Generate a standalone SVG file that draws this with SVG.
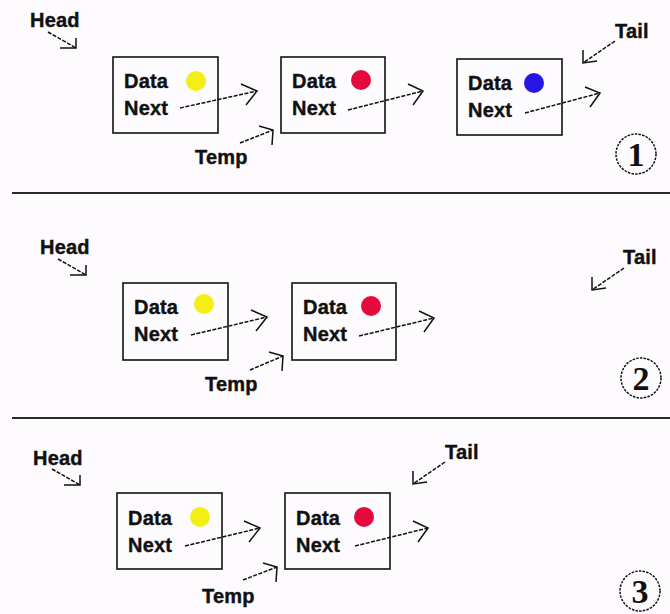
<svg xmlns="http://www.w3.org/2000/svg" width="670" height="614" viewBox="0 0 670 614">
<style>
.bg{fill:#fdfbfd}
.lbl{font-family:"Liberation Sans",Arial,sans-serif;font-weight:bold;font-size:20px;fill:#111;stroke:#111;stroke-width:0.4;letter-spacing:0.2px}
.box{fill:none;stroke:#111;stroke-width:1.6}
.sep{stroke:#2a2a2a;stroke-width:2.2}
.arr{fill:none;stroke:#111;stroke-width:1.5;stroke-dasharray:4 1.5}
.head{fill:none;stroke:#111;stroke-width:1.5}
.num{fill:none;stroke:#111;stroke-width:1.5;stroke-dasharray:2.5 1.2}
.numt{font-family:"Liberation Serif","Times New Roman",serif;font-weight:bold;font-size:34px;fill:#111;text-anchor:middle}
.y{fill:#f3ef14}
.r{fill:#e50a3c}
.b{fill:#2a16e4}
</style>
<rect class="bg" x="0" y="0" width="670" height="614"/>
<line class="sep" x1="12" y1="193" x2="670" y2="193"/>
<line class="sep" x1="12" y1="418" x2="670" y2="418"/>

<!-- Panel 1 -->
<g id="p1-head"><text class="lbl" x="30" y="27">Head</text></g>
<g id="p1-node1"><rect class="box" x="113" y="57" width="105" height="76"/><text class="lbl" x="124" y="88">Data</text><text class="lbl" x="124" y="115">Next</text><circle class="y" cx="196" cy="81" r="10"/></g>
<g id="p1-node2"><rect class="box" x="281" y="57" width="104" height="76"/><text class="lbl" x="292" y="88">Data</text><text class="lbl" x="292" y="115">Next</text><circle class="r" cx="361" cy="80" r="10"/></g>
<g id="p1-node3"><rect class="box" x="457" y="59" width="105" height="76"/><text class="lbl" x="468" y="90">Data</text><text class="lbl" x="468" y="117">Next</text><circle class="b" cx="534" cy="83" r="10"/></g>
<g id="p1-temp"><text class="lbl" x="195" y="164">Temp</text></g>
<g id="p1-tail"><text class="lbl" x="615" y="38">Tail</text></g>
<g id="p1-step"><circle class="num" cx="636" cy="154" r="20"/><text class="numt" x="636" y="166">1</text></g>

<!-- Panel 2 -->
<g id="p2-head"><text class="lbl" x="40" y="254">Head</text></g>
<g id="p2-node1"><rect class="box" x="123" y="283" width="105" height="77"/><text class="lbl" x="134" y="314">Data</text><text class="lbl" x="134" y="341">Next</text><circle class="y" cx="204" cy="304" r="10"/></g>
<g id="p2-node2"><rect class="box" x="292" y="283" width="104" height="77"/><text class="lbl" x="303" y="314">Data</text><text class="lbl" x="303" y="341">Next</text><circle class="r" cx="371" cy="306" r="10"/></g>
<g id="p2-temp"><text class="lbl" x="205" y="391">Temp</text></g>
<g id="p2-tail"><text class="lbl" x="623" y="264">Tail</text></g>
<g id="p2-step"><circle class="num" cx="641" cy="378" r="20"/><text class="numt" x="641" y="390">2</text></g>

<!-- Panel 3 -->
<g id="p3-head"><text class="lbl" x="33" y="465">Head</text></g>
<g id="p3-node1"><rect class="box" x="117" y="493" width="105" height="76"/><text class="lbl" x="128" y="525">Data</text><text class="lbl" x="128" y="552">Next</text><circle class="y" cx="200" cy="517" r="10"/></g>
<g id="p3-node2"><rect class="box" x="285" y="493" width="105" height="76"/><text class="lbl" x="296" y="525">Data</text><text class="lbl" x="296" y="552">Next</text><circle class="r" cx="364" cy="517" r="10"/></g>
<g id="p3-temp"><text class="lbl" x="202" y="603">Temp</text></g>
<g id="p3-tail"><text class="lbl" x="445" y="459">Tail</text></g>
<g id="p3-step"><circle class="num" cx="640" cy="591" r="20"/><text class="numt" x="640" y="603">3</text></g>

<g id="connectors">
<!-- panel 1 -->
<path class="arr" d="M48,32 L76,48"/><path class="head" d="M60,48 L76,48 L76,38"/>
<path class="arr" d="M180,108 L257,91"/><path class="head" d="M241,84 L257,91 L246,105"/>
<path class="arr" d="M348,110 L423,91"/><path class="head" d="M408,84 L423,91 L413,105"/>
<path class="arr" d="M525,113 L600,93"/><path class="head" d="M585,87 L600,93 L590,107"/>
<path class="arr" d="M240,143 L273,130"/><path class="head" d="M259,126 L273,130 L272,145"/>
<path class="arr" d="M615,41 L583,63"/><path class="head" d="M583,50 L583,63 L597,61"/>
<!-- panel 2 -->
<path class="arr" d="M58,259 L86,275"/><path class="head" d="M70,275 L86,275 L86,265"/>
<path class="arr" d="M191,335 L267,317"/><path class="head" d="M251,310 L267,317 L256,331"/>
<path class="arr" d="M359,336 L434,318"/><path class="head" d="M419,311 L434,318 L424,332"/>
<path class="arr" d="M250,370 L283,356"/><path class="head" d="M269,352 L283,356 L282,371"/>
<path class="arr" d="M624,268 L592,290"/><path class="head" d="M592,277 L592,290 L606,288"/>
<!-- panel 3 -->
<path class="arr" d="M52,469 L80,485"/><path class="head" d="M64,485 L80,485 L80,475"/>
<path class="arr" d="M185,546 L260,528"/><path class="head" d="M244,521 L260,528 L249,542"/>
<path class="arr" d="M355,546 L428,528"/><path class="head" d="M413,521 L428,528 L418,542"/>
<path class="arr" d="M243,580 L277,567"/><path class="head" d="M263,563 L277,567 L276,582"/>
<path class="arr" d="M445,462 L413,484"/><path class="head" d="M413,471 L413,484 L427,482"/>
</g>
</svg>
